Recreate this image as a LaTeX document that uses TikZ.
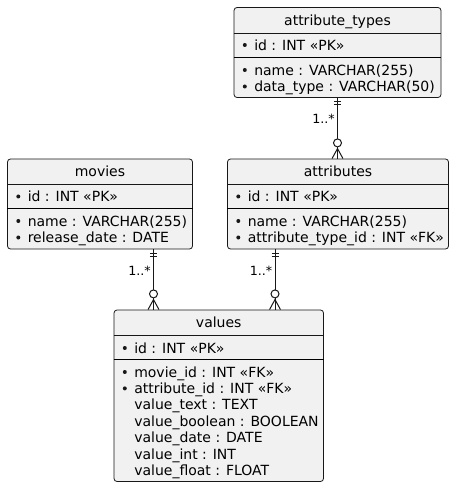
\documentclass[tikz,border=0pt]{standalone}
\usepackage{fontspec}
\setmainfont{DejaVu Sans}
\usetikzlibrary{calc,fit}

\definecolor{entityfill}{HTML}{F1F1F1}
\definecolor{entityline}{HTML}{181818}

\tikzset{
  entity/.style={draw=entityline, line width=0.6pt, fill=entityfill,
    rounded corners=2.25pt, inner sep=0pt},
  title/.style={font=\fontsize{10.5}{12.6}\selectfont, inner sep=0pt,
    text height=7.6pt, text depth=0pt},
  field/.style={title, anchor=west},
  keydot/.style={circle, fill=entityline, inner sep=0pt, minimum size=3pt},
  pk/.style={label={[keydot, label distance=5.2pt]left:{}}},
  titlesep/.style={draw=entityline, line width=0.5pt},
  keysep/.style={draw=black, line width=0.8pt},
  link/.style={draw=entityline, line width=0.75pt},
  mult/.style={font=\fontsize{9.5}{11.4}\selectfont, anchor=east,
    inner sep=0pt, text height=6.9pt, text depth=0pt}
}

\begin{document}
\begin{tikzpicture}[x=0.75pt, y=-0.75pt]
  \useasboundingbox (0,0) rectangle (454,488);

  % attribute_types
  \node[entity, fit={(234,7.5) (441,97.5)}] (types) {};
  \node[title] (types-title) at (types.north |- 0,20.5) {attribute\_types};
  \draw[titlesep] (types.west |- 0,33.5) -- (types.east |- 0,33.5);
  \node[field, pk] (types-pk) at (254,45) {id : INT «PK»};
  \draw[keysep] (types.west |- 0,57.5) -- (types.east |- 0,57.5);
  \foreach \t [count=\i] in {name : VARCHAR(255), data\_type : VARCHAR(50)}
    \node[field, pk] (types-f\i) at (254,53.5+16.5*\i) {\t};

  % attributes
  \node[entity, fit={(227.5,159) (448.5,249)}] (attrs) {};
  \node[title] (attrs-title) at (attrs.north |- 0,171.5) {attributes};
  \draw[titlesep] (attrs.west |- 0,184.5) -- (attrs.east |- 0,184.5);
  \node[field, pk] (attrs-pk) at (247.5,196.5) {id : INT «PK»};
  \draw[keysep] (attrs.west |- 0,208.5) -- (attrs.east |- 0,208.5);
  \foreach \t [count=\i] in {name : VARCHAR(255), attribute\_type\_id : INT «FK»}
    \node[field, pk] (attrs-f\i) at (247.5,204.5+16.5*\i) {\t};

  % movies
  \node[entity, fit={(7.5,159) (192.5,249)}] (movies) {};
  \node[title] (movies-title) at (movies.north |- 0,171.5) {movies};
  \draw[titlesep] (movies.west |- 0,184.5) -- (movies.east |- 0,184.5);
  \node[field, pk] (movies-pk) at (27.5,196.5) {id : INT «PK»};
  \draw[keysep] (movies.west |- 0,208.5) -- (movies.east |- 0,208.5);
  \foreach \t [count=\i] in {name : VARCHAR(255), release\_date : DATE}
    \node[field, pk] (movies-f\i) at (27.5,204.5+16.5*\i) {\t};

  % values
  \node[entity, fit={(114,310) (323.5,481.5)}] (values) {};
  \node[title] (values-title) at (values.north |- 0,322.5) {values};
  \draw[titlesep] (values.west |- 0,335) -- (values.east |- 0,335);
  \node[field, pk] (values-pk) at (134,348) {id : INT «PK»};
  \draw[keysep] (values.west |- 0,359.5) -- (values.east |- 0,359.5);
  \foreach \t [count=\i] in {movie\_id : INT «FK», attribute\_id : INT «FK»}
    \node[field, pk] (values-k\i) at (134,355.6+16.4*\i) {\t};
  \foreach \t [count=\i] in {value\_text : TEXT, value\_boolean : BOOLEAN,
      value\_date : DATE, value\_int : INT, value\_float : FLOAT}
    \node[field] (values-f\i) at (134,388.4+16.4*\i) {\t};

  % link ends
  \coordinate (top1) at (types.south);
  \coordinate (bot1) at (attrs.north -| types.south);
  \coordinate (top2) at (movies.south -| 153.5,0);
  \coordinate (bot2) at (values.north -| 153.5,0);
  \coordinate (top3) at (attrs.south -| 275,0);
  \coordinate (bot3) at (values.north -| 275,0);

  % one to many links
  \foreach \i in {1,2,3} {
    \draw[link] (top\i) -- (bot\i);
    \draw[link] ($(top\i)+(-3.5,3.7)$) -- +(7,0);
    \draw[link] ($(top\i)+(-3.5,7)$) -- +(7,0);
    \draw[link, fill=white] ($(bot\i)+(0,-15.7)$) circle (4);
    \draw[link] ($(bot\i)+(-5.5,0)$) -- ($(bot\i)+(0,-10)$) -- ($(bot\i)+(5.5,0)$);
    \node[mult] (mult\i) at ($(top\i)+(-2.5,21)$) {1..*};
  }
\end{tikzpicture}
\end{document}
